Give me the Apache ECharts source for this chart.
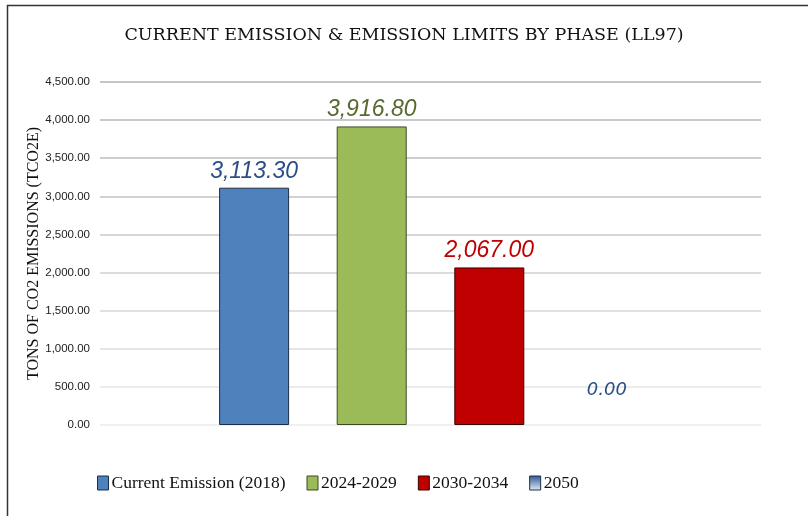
<!DOCTYPE html>
<html><head><meta charset="utf-8">
<script src="https://cdn.jsdelivr.net/npm/echarts@6/dist/echarts.min.js"></script>
<style>html,body{margin:0;padding:0;background:#fff}#c{width:808px;height:516px}</style>
</head><body><div id="c"></div>
<script>
const categories = ['Phase'];
const seriesNames = ['Current Emission (2018)', '2024-2029', '2030-2034', '2050'];
const seriesValues = [3113.30, 3916.80, 2067.00, 0.00];
const yTicks = [0, 500, 1000, 1500, 2000, 2500, 3000, 3500, 4000, 4500];

const fills = ['#4f81bd', '#9bbb59', '#c00000', '#2c5592'];
const borders = ['#1c2f48', '#3b4a20', '#3a0000', '#1c2f48'];
const labelColors = ['#2a4f86', '#56692e', '#c00000', '#2a4f86'];

const chart = echarts.init(document.getElementById('c'), null, {renderer: 'canvas'});
const fmt = v => v.toLocaleString('en-US', {minimumFractionDigits: 2, maximumFractionDigits: 2});

const series = seriesNames.map((name, i) => ({
  name,
  type: 'bar',
  data: [seriesValues[i]],
  barWidth: 70,
  barGap: '68%',
  itemStyle: {
    color: i === 3 ? new echarts.graphic.LinearGradient(0, 0, 0, 1, [{offset: 0, color: '#2c5592'}, {offset: 1, color: '#e4ecf7'}]) : fills[i],
    borderColor: borders[i],
    borderWidth: i === 3 ? 0 : 1
  },
  label: {
    show: true,
    position: 'top',
    distance: i === 3 ? 26 : 5,
    formatter: p => fmt(p.value),
    color: labelColors[i],
    fontFamily: i === 3 ? 'DejaVu Sans' : 'Liberation Sans',
    fontStyle: 'italic',
    fontSize: i === 3 ? 18 : 23
  }
}));

const gridColors = ['#f0f0f0', '#ebebeb', '#e6e6e6', '#e1e1e1', '#dcdcdc', '#d6d6d6', '#d1d1d1', '#cdcdcd', '#c9c9c9', '#c6c6c6'];

chart.setOption({
  animation: false,
  title: {
    text: 'CURRENT EMISSION & EMISSION LIMITS BY PHASE (LL97)',
    left: 'center',
    top: 21,
    textStyle: {fontFamily: 'DejaVu Serif', fontWeight: 'normal', fontSize: 17.5, color: '#111'}
  },
  legend: {
    bottom: 19,
    left: 92,
    itemWidth: 11,
    itemHeight: 14,
    itemGap: 21,
    icon: 'rect',
    textStyle: {fontFamily: 'Liberation Serif', fontSize: 17.5, color: '#111', padding: [0, 0, 0, -2]},
    data: seriesNames.map((n, i) => ({name: n, itemStyle: {borderColor: borders[i], borderWidth: 1}}))
  },
  grid: {left: 100, right: 47, top: 82, bottom: 91},
  xAxis: {
    type: 'category',
    data: categories,
    axisLine: {show: false},
    axisTick: {show: false},
    axisLabel: {show: false}
  },
  yAxis: {
    type: 'value',
    min: 0,
    max: 4500,
    interval: 500,
    name: 'TONS OF CO2 EMISSIONS (TCO2E)',
    nameLocation: 'middle',
    nameGap: 58,
    nameMoveOverlap: false,
    nameTextStyle: {fontFamily: 'Liberation Serif', fontSize: 16, color: '#111'},
    axisLabel: {fontFamily: 'Liberation Sans', fontSize: 11.5, color: '#222', margin: 10, formatter: v => fmt(v)},
    splitLine: {lineStyle: {color: gridColors, width: 2}},
    axisLine: {show: false},
    axisTick: {show: false}
  },
  graphic: [{
    type: 'polyline',
    shape: {points: [[7.5, 520], [7.5, 5.5], [812, 5.5]]},
    style: {stroke: '#333', lineWidth: 1.5, fill: null}
  }],
  series
});
</script></body></html>
